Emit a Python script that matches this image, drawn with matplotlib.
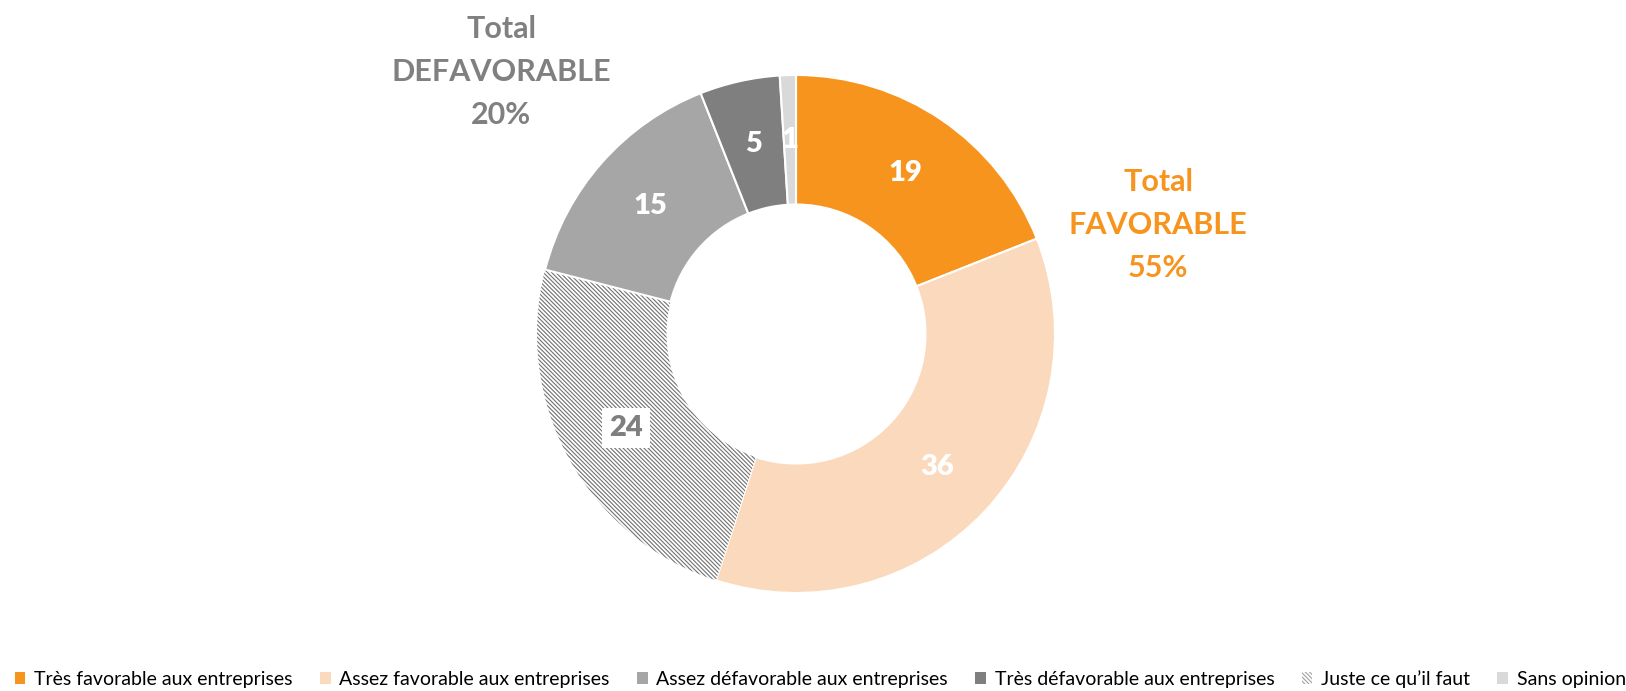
import matplotlib.pyplot as plt
import matplotlib.patches as mpatches
import numpy as np

plt.rcParams['font.family'] = ['Lato', 'DejaVu Sans']
plt.rcParams['hatch.linewidth'] = 0.8

# donut slices, clockwise from 12 o'clock
slice_names = ['Très favorable aux entreprises', 'Assez favorable aux entreprises',
               'Juste ce qu\u2019il faut', 'Assez défavorable aux entreprises',
               'Très défavorable aux entreprises', 'Sans opinion']
slice_values = [19, 36, 24, 15, 5, 1]
slice_colors = ['#F7941D', '#FBD9BC', 'white', '#A6A6A6', '#7F7F7F', '#D9D9D9']
label_colors = ['white', 'white', '#7F7F7F', 'white', 'white', 'white']

# legend order
legend_order = ['Très favorable aux entreprises', 'Assez favorable aux entreprises',
                'Assez défavorable aux entreprises', 'Très défavorable aux entreprises',
                'Juste ce qu\u2019il faut', 'Sans opinion']

total_fav = 55
total_defav = 20

fig = plt.figure(figsize=(16.26, 6.91), dpi=100)
cx, cy, r = 796, 334, 259
ax = fig.add_axes([(cx - r) / 1626, (691 - cy - r) / 691, 2 * r / 1626, 2 * r / 691])

wedges, _ = ax.pie(slice_values, colors=slice_colors, startangle=90, counterclock=False,
                   radius=1.0, wedgeprops=dict(width=0.5, edgecolor='white', linewidth=1.5))
# hatched slice
hw = wedges[2]
hw.set_hatch('\\' * 8)
hw.set_edgecolor('#707070')
hw.set_linewidth(0)

angle = 90.0
for w, v, c in zip(wedges, slice_values, label_colors):
    mid = np.deg2rad(angle - v * 3.6 / 2)
    angle -= v * 3.6
    x, y = 0.75 * np.cos(mid), 0.75 * np.sin(mid)
    if c == 'white':
        ax.text(x, y, str(v), ha='center', va='center', color=c, fontsize=21, fontweight='heavy')
    else:
        ax.text(x, y, str(v), ha='center', va='center', color=c, fontsize=21, fontweight='heavy',
                bbox=dict(facecolor='white', edgecolor='none', pad=5))
ax.set_xlim(-1, 1)
ax.set_ylim(-1, 1)
ax.set_aspect('equal')
ax.axis('off')

fig.text(1158 / 1626, 1 - 225 / 691, 'Total\nFAVORABLE\n%d%%' % total_fav, ha='center', va='center',
         color='#F7941D', fontsize=22, fontweight='bold', linespacing=1.65)
fig.text(501 / 1626, 1 - 72 / 691, 'Total\nDEFAVORABLE\n%d%%' % total_defav, ha='center', va='center',
         color='#808080', fontsize=22, fontweight='bold', linespacing=1.65)

handles = []
for name in legend_order:
    i = slice_names.index(name)
    if i == 2:
        h = mpatches.Patch(facecolor='white', edgecolor='#A0A0A0', hatch='\\' * 8, linewidth=0, label=name)
    else:
        h = mpatches.Patch(facecolor=slice_colors[i], edgecolor='none', label=name)
    handles.append(h)
fig.legend(handles=handles, loc='center', bbox_to_anchor=(0.5045, 1 - 679 / 691), ncol=6,
           frameon=False, fontsize=14, handlelength=0.55, handleheight=0.55, handletextpad=0.45,
           columnspacing=1.4, borderaxespad=0)

fig.savefig('out.png', dpi=100)
